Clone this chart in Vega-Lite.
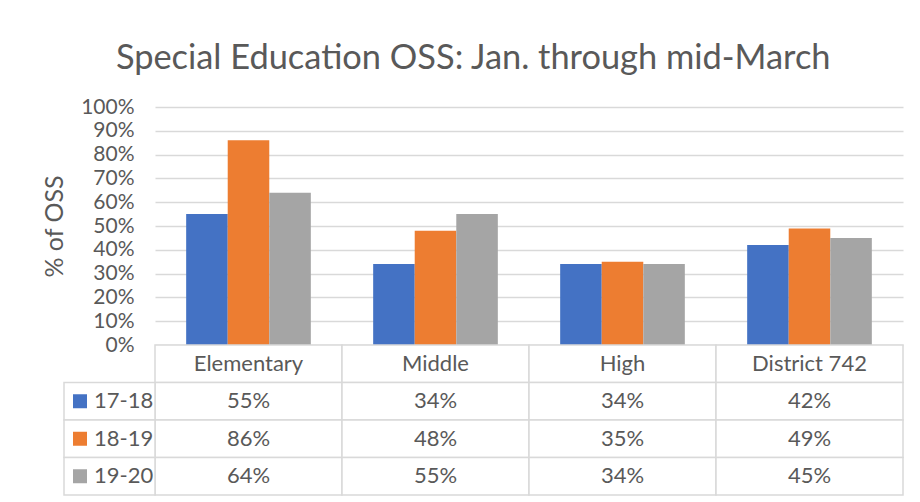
{
  "$schema": "https://vega.github.io/schema/vega-lite/v6.json",
  "background": "white",
  "padding": {"left": 42, "top": 40, "right": 10, "bottom": 5},
  "bounds": "flush",
  "config": {"font": "Lato", "view": {"stroke": null}},
  "title": {"text": "Special Education OSS: Jan. through mid-March", "fontSize": 34.4, "fontWeight": "normal", "color": "#595959", "font": "Lato", "offset": 20, "anchor": "middle"},
  "datasets": {
    "oss": [
      {"school": "Elementary", "year": "17-18", "value": 0.55},
      {"school": "Elementary", "year": "18-19", "value": 0.86},
      {"school": "Elementary", "year": "19-20", "value": 0.64},
      {"school": "Middle", "year": "17-18", "value": 0.34},
      {"school": "Middle", "year": "18-19", "value": 0.48},
      {"school": "Middle", "year": "19-20", "value": 0.55},
      {"school": "High", "year": "17-18", "value": 0.34},
      {"school": "High", "year": "18-19", "value": 0.35},
      {"school": "High", "year": "19-20", "value": 0.34},
      {"school": "District 742", "year": "17-18", "value": 0.42},
      {"school": "District 742", "year": "18-19", "value": 0.49},
      {"school": "District 742", "year": "19-20", "value": 0.45}
    ],
    "cats": [{"school": "Elementary"}, {"school": "Middle"}, {"school": "High"}, {"school": "District 742"}],
    "years": [{"year": "17-18", "col": "legend"}, {"year": "18-19", "col": "legend"}, {"year": "19-20", "col": "legend"}]
  },
  "spacing": 0,
  "vconcat": [
    {
      "width": 748,
      "height": 238,
      "data": {"name": "oss"},
      "mark": {"type": "bar"},
      "encoding": {
        "x": {"field": "school", "type": "nominal", "sort": null, "scale": {"domain": ["Elementary", "Middle", "High", "District 742"], "paddingInner": 0, "paddingOuter": 0}, "axis": null},
        "xOffset": {"field": "year", "type": "nominal", "scale": {"domain": ["17-18", "18-19", "19-20"], "paddingOuter": 0.75, "paddingInner": 0}},
        "y": {"field": "value", "type": "quantitative", "scale": {"domain": [0, 1]},
          "axis": {"values": [0, 0.1, 0.2, 0.3, 0.4, 0.5, 0.6, 0.7, 0.8, 0.9, 1], "format": ".0%", "grid": true, "gridColor": "#d9d9d9", "gridWidth": 1.5, "domain": false, "ticks": false, "labelFontSize": 21, "labelColor": "#595959", "labelPadding": 21, "title": "% of OSS", "titleFontSize": 25, "titleFontWeight": "normal", "titleColor": "#595959", "titlePadding": 13}},
        "color": {"field": "year", "type": "nominal", "scale": {"domain": ["17-18", "18-19", "19-20"], "range": ["#4472C4", "#ED7D31", "#A5A5A5"]}, "legend": null}
      }
    },
    {
      "width": 748,
      "height": 150,
      "resolve": {"scale": {"x": "independent"}},
      "encoding": {
        "y": {"type": "nominal", "scale": {"domain": ["header", "17-18", "18-19", "19-20"], "paddingInner": 0, "paddingOuter": 0}, "axis": null}
      },
      "layer": [
        {
          "data": {"name": "cats"},
          "mark": {"type": "rect", "fill": "white", "stroke": "#d9d9d9", "strokeWidth": 1.5},
          "encoding": {
            "x": {"field": "school", "type": "nominal", "sort": null, "scale": {"domain": ["Elementary", "Middle", "High", "District 742"], "paddingInner": 0, "paddingOuter": 0}, "axis": null},
            "y": {"datum": "header", "type": "nominal"}
          }
        },
        {
          "data": {"name": "cats"},
          "mark": {"type": "text", "fontSize": 22, "color": "#595959", "baseline": "middle"},
          "encoding": {
            "x": {"field": "school", "type": "nominal", "sort": null, "scale": {"domain": ["Elementary", "Middle", "High", "District 742"], "paddingInner": 0, "paddingOuter": 0}, "axis": null},
            "y": {"datum": "header", "type": "nominal"},
            "text": {"field": "school"}
          }
        },
        {
          "data": {"name": "oss"},
          "mark": {"type": "rect", "fill": "white", "stroke": "#d9d9d9", "strokeWidth": 1.5},
          "encoding": {
            "x": {"field": "school", "type": "nominal", "sort": null, "scale": {"domain": ["Elementary", "Middle", "High", "District 742"], "paddingInner": 0, "paddingOuter": 0}, "axis": null},
            "y": {"field": "year", "type": "nominal"}
          }
        },
        {
          "data": {"name": "oss"},
          "mark": {"type": "text", "fontSize": 22, "color": "#595959", "baseline": "middle"},
          "encoding": {
            "x": {"field": "school", "type": "nominal", "sort": null, "scale": {"domain": ["Elementary", "Middle", "High", "District 742"], "paddingInner": 0, "paddingOuter": 0}, "axis": null},
            "y": {"field": "year", "type": "nominal"},
            "text": {"field": "value", "type": "quantitative", "format": ".0%"}
          }
        },
        {
          "data": {"name": "years"},
          "mark": {"type": "rect", "fill": "white", "stroke": "#d9d9d9", "strokeWidth": 1.5},
          "encoding": {
            "x": {"field": "col", "type": "nominal", "scale": {"domain": ["legend"], "range": [-91, 0], "paddingInner": 0, "paddingOuter": 0}, "axis": null},
            "y": {"field": "year", "type": "nominal"}
          }
        },
        {
          "data": {"name": "years"},
          "mark": {"type": "point", "shape": "square", "filled": true, "size": 196, "opacity": 1},
          "encoding": {
            "x": {"field": "col", "type": "nominal", "scale": {"domain": ["legend"], "range": [-91, 0], "paddingInner": 0, "paddingOuter": 0}, "axis": null},
            "xOffset": {"value": -29.5},
            "y": {"field": "year", "type": "nominal"},
            "color": {"field": "year", "type": "nominal", "scale": {"domain": ["17-18", "18-19", "19-20"], "range": ["#4472C4", "#ED7D31", "#A5A5A5"]}, "legend": null}
          }
        },
        {
          "data": {"name": "years"},
          "mark": {"type": "text", "fontSize": 22, "color": "#595959", "baseline": "middle", "align": "left", "dx": -15.5},
          "encoding": {
            "x": {"field": "col", "type": "nominal", "scale": {"domain": ["legend"], "range": [-91, 0], "paddingInner": 0, "paddingOuter": 0}, "axis": null},
            "y": {"field": "year", "type": "nominal"},
            "text": {"field": "year"}
          }
        }
      ]
    }
  ]
}
